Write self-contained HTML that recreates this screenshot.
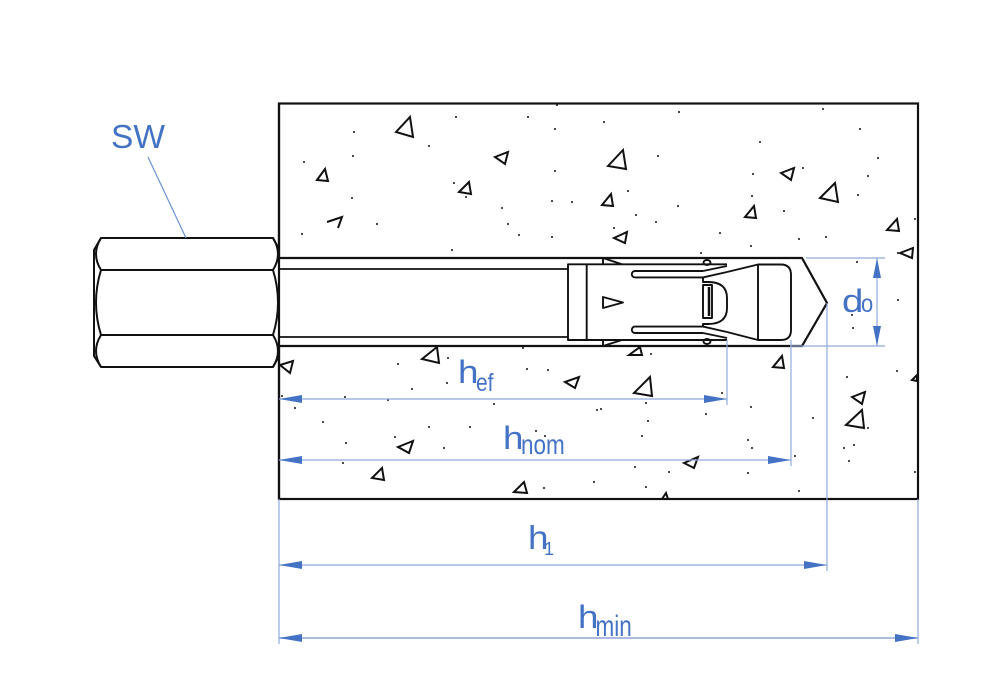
<!DOCTYPE html>
<html><head><meta charset="utf-8"><style>
html,body{margin:0;padding:0;background:#fff;}
svg{display:block;}
text{font-family:"Liberation Sans",Arial,sans-serif;fill:#4472C4;}
</style></head><body>
<svg width="1000" height="700" viewBox="0 0 1000 700" xmlns="http://www.w3.org/2000/svg">
<rect width="1000" height="700" fill="#fff"/>

<!-- concrete block -->
<rect x="279" y="103.5" width="639" height="395.5" fill="none" stroke="#111" stroke-width="2.2"/>

<!-- aggregate triangles -->
<g fill="none" stroke="#111" stroke-width="2" stroke-linejoin="miter">
<polygon points="396,132 410,117 413,137"/>
<polygon points="317,180 325,169 328,181"/>
<polyline points="327,222 342,217 338,228"/>
<polygon points="495,157 508,152 505,164"/>
<polygon points="459,192 469,182 471,194"/>
<polygon points="608,166 623,150 626,169"/>
<polygon points="602,205 611,194 613,206"/>
<polygon points="614,238 627,232 625,243"/>
<polygon points="781,173 794,168 791,180"/>
<polygon points="820,198 835,183 838,202"/>
<polygon points="745,217 754,206 756,218"/>
<polygon points="887,230 897,219 899,231"/>
<polygon points="900,253 913,248 912,258"/>
<polygon points="280,365 293,361 290,373"/>
<polygon points="422,359 437,347 439,363"/>
<polygon points="565,382 579,377 575,388"/>
<polygon points="398,447 413,441 409,453"/>
<polygon points="372,478 382,468 384,480"/>
<polygon points="514,492 524,482 527,493"/>
<polygon points="629,355 640,347 642,355"/>
<polygon points="773,367 782,356 784,368"/>
<polygon points="634,393 650,377 652,396"/>
<polygon points="852,397 865,392 862,404"/>
<polygon points="846,425 862,410 864,428"/>
<polygon points="684,463 698,457 694,468"/>
<polygon points="662,499 666,493 668,499"/>
<polygon points="912,380 917,375 917,381"/>
</g>

<!-- dots -->
<g fill="#111">
<circle cx="354" cy="132" r="1"/><circle cx="353" cy="156" r="1"/><circle cx="304" cy="162" r="1"/><circle cx="352" cy="198" r="1"/><circle cx="377" cy="224" r="1"/><circle cx="302" cy="234" r="1"/><circle cx="429" cy="146" r="1"/><circle cx="456" cy="117" r="1"/><circle cx="528" cy="117" r="1"/><circle cx="555" cy="129" r="1"/><circle cx="555" cy="171" r="1"/><circle cx="552" cy="201" r="1"/><circle cx="572" cy="202" r="1"/><circle cx="502" cy="208" r="1"/><circle cx="508" cy="224" r="1"/><circle cx="519" cy="235" r="1"/><circle cx="552" cy="237" r="1"/><circle cx="452" cy="250" r="1"/><circle cx="454" cy="183" r="1"/><circle cx="466" cy="197" r="1"/><circle cx="557" cy="105" r="1"/>
<circle cx="604" cy="122" r="1"/><circle cx="679" cy="112" r="1"/><circle cx="823" cy="109" r="1"/><circle cx="860" cy="129" r="1"/><circle cx="760" cy="142" r="1"/><circle cx="658" cy="156" r="1"/><circle cx="878" cy="158" r="1"/><circle cx="753" cy="174" r="1"/><circle cx="803" cy="168" r="1"/><circle cx="868" cy="176" r="1"/><circle cx="628" cy="191" r="1"/><circle cx="752" cy="196" r="1"/><circle cx="858" cy="195" r="1"/><circle cx="678" cy="206" r="1"/><circle cx="784" cy="211" r="1"/><circle cx="636" cy="215" r="1"/><circle cx="656" cy="222" r="1"/><circle cx="614" cy="228" r="1"/><circle cx="720" cy="233" r="1"/><circle cx="799" cy="239" r="1"/><circle cx="826" cy="237" r="1"/><circle cx="751" cy="246" r="1"/><circle cx="701" cy="253" r="1"/><circle cx="915" cy="219" r="1"/>
<circle cx="398" cy="364" r="1"/><circle cx="448" cy="358" r="1"/><circle cx="523" cy="348" r="1"/><circle cx="527" cy="369" r="1"/><circle cx="548" cy="370" r="1"/><circle cx="447" cy="383" r="1"/><circle cx="412" cy="389" r="1"/><circle cx="345" cy="397" r="1"/><circle cx="388" cy="400" r="1"/><circle cx="282" cy="396" r="1"/><circle cx="295" cy="408" r="1"/><circle cx="494" cy="404" r="1"/><circle cx="323" cy="422" r="1"/><circle cx="429" cy="427" r="1"/><circle cx="470" cy="427" r="1"/><circle cx="395" cy="437" r="1"/><circle cx="536" cy="431" r="1"/><circle cx="545" cy="436" r="1"/><circle cx="346" cy="443" r="1"/><circle cx="444" cy="448" r="1"/><circle cx="343" cy="463" r="1"/><circle cx="544" cy="488" r="1"/><circle cx="594" cy="482" r="1"/><circle cx="597" cy="410" r="1"/>
<circle cx="651" cy="354" r="1"/><circle cx="847" cy="377" r="1"/><circle cx="897" cy="371" r="1"/><circle cx="722" cy="393" r="1"/><circle cx="601" cy="409" r="1"/><circle cx="646" cy="403" r="1"/><circle cx="751" cy="407" r="1"/><circle cx="706" cy="414" r="1"/><circle cx="648" cy="421" r="1"/><circle cx="813" cy="418" r="1"/><circle cx="642" cy="436" r="1"/><circle cx="748" cy="440" r="1"/><circle cx="752" cy="448" r="1"/><circle cx="844" cy="448" r="1"/><circle cx="854" cy="445" r="1"/><circle cx="849" cy="461" r="1"/><circle cx="795" cy="456" r="1"/><circle cx="635" cy="467" r="1"/><circle cx="669" cy="472" r="1"/><circle cx="748" cy="473" r="1"/><circle cx="646" cy="487" r="1"/><circle cx="799" cy="491" r="1"/><circle cx="915" cy="472" r="1"/><circle cx="868" cy="428" r="1"/>
<circle cx="898" cy="253" r="1"/><circle cx="898" cy="300" r="1"/><circle cx="857" cy="262" r="1"/><circle cx="852" cy="315" r="1"/><circle cx="853" cy="328" r="1"/>
</g>

<!-- drill hole (white interior) -->
<path d="M279,258 L802,258 L827,303 L802,346 L279,346 Z" fill="#fff" stroke="none"/>
<g fill="none" stroke="#111" stroke-width="2.2">
<path d="M279,258 L802,258 L827,303 L802,346 L279,346"/>
</g>
<!-- threaded rod -->
<g stroke="#111" stroke-width="1.7" fill="none">
<line x1="279" y1="269" x2="568" y2="269"/>
<line x1="279" y1="337" x2="568" y2="337"/>
</g>

<!-- sleeve -->
<g fill="none" stroke="#111" stroke-width="1.9" stroke-linejoin="round">
<path d="M727,264.3 L568,264.3 L568,340 L727,340"/>
<line x1="586.7" y1="264.3" x2="586.7" y2="340"/>
<path d="M603,264.3 L603,258 L622,264.3"/>
<path d="M603,340 L603,346 L622,340"/>
<polygon points="603,297 623,302.5 603,308"/>
<path d="M703,271 L635,271 A3.2,3.2 0 0 0 635,277.4 L703,277.4"/>
<path d="M703,271 L727,266"/>
<path d="M703,277.4 L727,272"/>
<path d="M703,333 L635,333 A3.2,3.2 0 0 1 635,326.6 L703,326.6"/>
<path d="M703,333 L727,338"/>
<path d="M703,326.6 L727,332"/>
<path d="M703,277.4 L703,282 L708,282 Q727,282 727,298 L727,308 Q727,324 708,324 L703,324 L703,326.6"/>
<rect x="703" y="285" width="9" height="33"/>
<line x1="709" y1="287" x2="709" y2="316" stroke-width="2.5"/>
<ellipse cx="707" cy="262.5" rx="3.5" ry="2.5"/>
<ellipse cx="707" cy="341.5" rx="3.5" ry="2.5"/>
<path d="M727,272 L758,264.5 L758,340 L727,332"/>
<path d="M758,264.5 L781,264.5 Q791,264.5 791,275 L791,330 Q791,340 781,340 L758,340"/>
</g>

<!-- hex nut -->
<g fill="#fff" stroke="#111" stroke-width="2" stroke-linejoin="round">
<path d="M101,238 L273,238 L279,249 L279,356 L273,367 L101,367 L94,356 L94,250 Z"/>
</g>
<g fill="none" stroke="#111" stroke-width="2">
<line x1="101" y1="270" x2="273" y2="270"/>
<line x1="101" y1="335" x2="273" y2="335"/>
<path d="M101,238 Q91,254 101,270 Q91,302.5 101,335 Q91,351 101,367"/>
<path d="M273,238 Q283,254 273,270 Q283,302.5 273,335 Q283,351 273,367"/>
<line x1="279" y1="103" x2="279" y2="499" stroke-width="2.2"/>
</g>

<!-- dimension lines -->
<g stroke="#8FAADC" stroke-width="1.2" fill="none">
<line x1="148" y1="157" x2="186" y2="238" stroke="#6A93D4"/>
<line x1="806" y1="258" x2="885" y2="258"/>
<line x1="790" y1="346" x2="885" y2="346"/>
<line x1="877" y1="258" x2="877" y2="346"/>
<line x1="727" y1="340" x2="727" y2="405"/>
<line x1="791" y1="340" x2="791" y2="466"/>
<line x1="827" y1="303" x2="827" y2="571"/>
<line x1="279" y1="499" x2="279" y2="644"/>
<line x1="918" y1="499" x2="918" y2="644"/>
<line x1="279" y1="399" x2="727" y2="399"/>
<line x1="279" y1="460" x2="791" y2="460"/>
<line x1="279" y1="565" x2="827" y2="565"/>
<line x1="279" y1="638" x2="918" y2="638" stroke="#9DB2DA" stroke-width="1.7"/>
</g>

<!-- arrowheads -->
<g fill="#4472C4">
<polygon points="877,258 873,278 881,278"/>
<polygon points="877,346 873,326 881,326"/>
<polygon points="279,399 302,395 302,403"/>
<polygon points="727,399 704,395 704,403"/>
<polygon points="279,460 302,456 302,464"/>
<polygon points="791,460 768,456 768,464"/>
<polygon points="279,565 302,561 302,569"/>
<polygon points="827,565 804,561 804,569"/>
<polygon points="279,638 302,634 302,642"/>
<polygon points="918,638 895,634 895,642"/>
</g>

<!-- labels -->
<text x="111" y="148" font-size="33.5">SW</text>

<text transform="translate(842,312) scale(1.2,1)" font-size="32">d</text>
<text transform="translate(861,312) scale(1,1.15)" font-size="22">o</text>

<text transform="translate(458,383) scale(1.15,1)" font-size="32">h</text>
<text transform="translate(476,391) scale(1,1.2)" font-size="21">ef</text>

<text transform="translate(503,449) scale(1.15,1)" font-size="32">h</text>
<text transform="translate(521,454) scale(1,1.25)" font-size="22.5">nom</text>

<text transform="translate(528,549) scale(1.12,1)" font-size="33">h</text>
<text transform="translate(544,555)" font-size="18">1</text>

<text transform="translate(578,628) scale(1.15,1)" font-size="32">h</text>
<text transform="translate(595.5,636) scale(1,1.3)" font-size="22.5">min</text>
</svg>
</body></html>
